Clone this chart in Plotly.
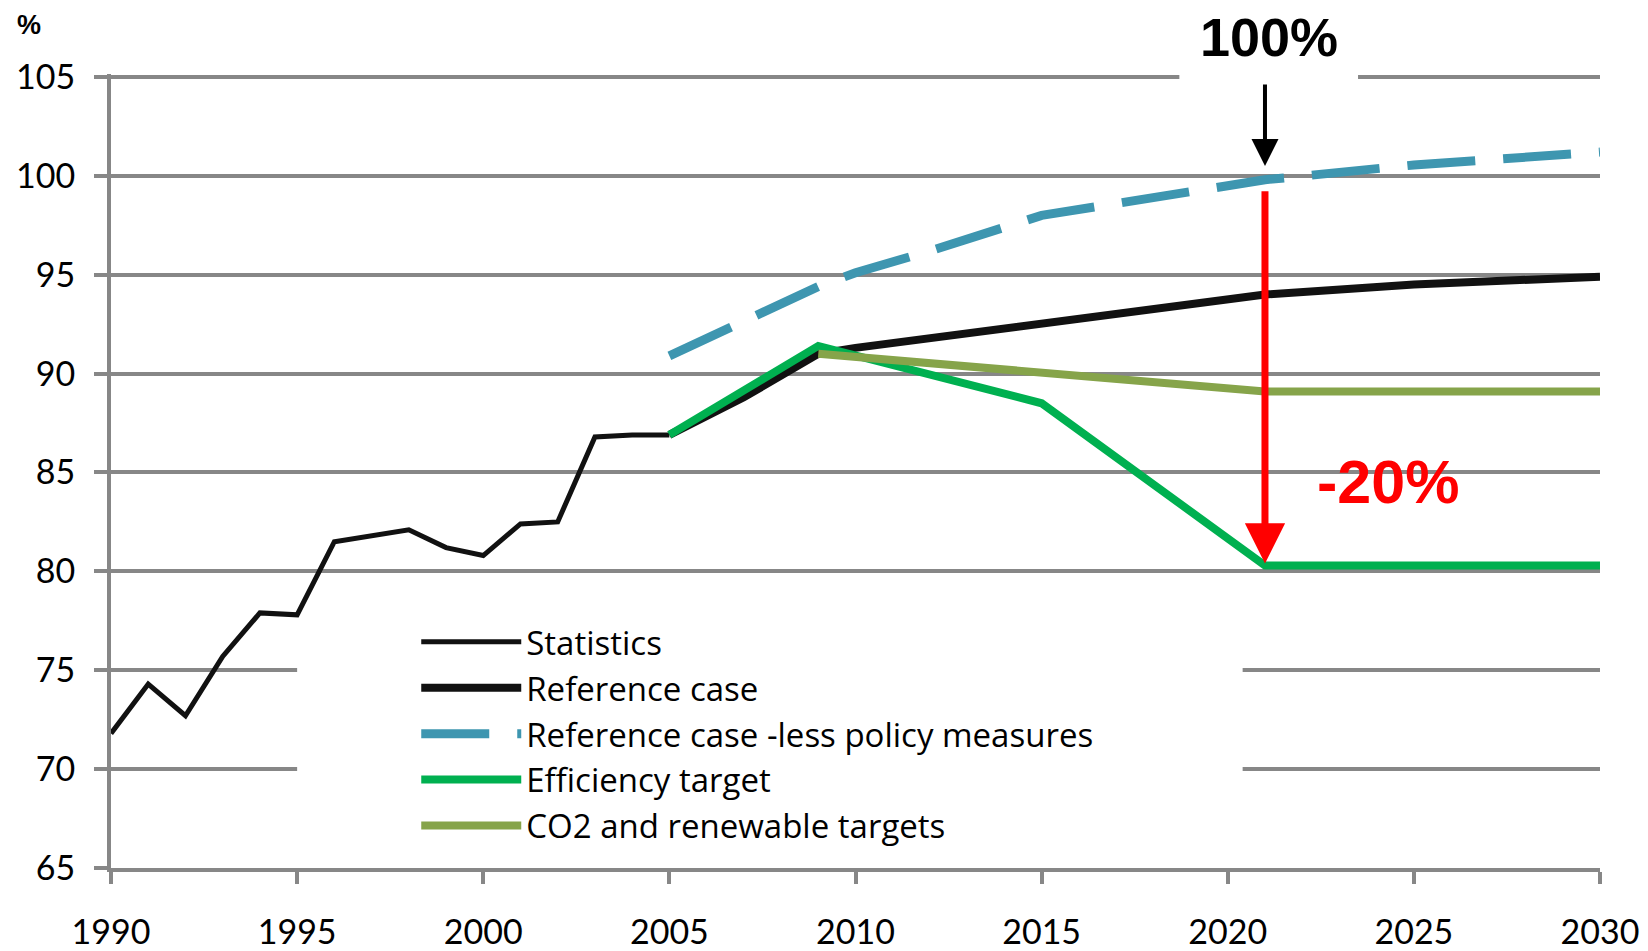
import plotly.graph_objects as go

# values
stat_years = [1990, 1991, 1992, 1993, 1994, 1995, 1996, 1997, 1998, 1999, 2000, 2001, 2002, 2003, 2004, 2005]
stat_values = [71.8, 74.3, 72.7, 75.7, 77.9, 77.8, 81.5, 81.8, 82.1, 81.2, 80.8, 82.4, 82.5, 86.8, 86.9, 86.9]

ref_years = [2005, 2006, 2007, 2008, 2009, 2010, 2015, 2020, 2021, 2025, 2030]
ref_values = [86.9, 87.8, 88.8, 89.9, 91.0, 91.3, 92.5, 93.8, 94.0, 94.5, 94.9]

less_years = [2005, 2007, 2009, 2010, 2012, 2015, 2018, 2021, 2025, 2030]
less_values = [90.9, 92.6, 94.4, 95.1, 96.2, 98.0, 98.9, 99.8, 100.55, 101.2]

eff_years = [2005, 2009, 2015, 2021, 2030]
eff_values = [86.9, 91.4, 88.5, 80.3, 80.3]

co2_years = [2009, 2015, 2021, 2030]
co2_values = [91.0, 90.1, 89.1, 89.1]

x_ticks = [1990, 1995, 2000, 2005, 2010, 2015, 2020, 2025, 2030]
y_ticks = [65, 70, 75, 80, 85, 90, 95, 100, 105]

grid = "#878787"
font_name = "Lato"

fig = go.Figure()
fig.add_trace(go.Scatter(x=stat_years, y=stat_values, mode="lines", name="Statistics",
                         line=dict(color="#111111", width=5)))
fig.add_trace(go.Scatter(x=ref_years, y=ref_values, mode="lines", name="Reference case",
                         line=dict(color="#111111", width=8)))
fig.add_trace(go.Scatter(x=less_years, y=less_values, mode="lines",
                         name="Reference case -less policy measures",
                         line=dict(color="#3E96B0", width=9, dash="68px,28px")))
fig.add_trace(go.Scatter(x=eff_years, y=eff_values, mode="lines", name="Efficiency target",
                         line=dict(color="#00B050", width=8)))
fig.add_trace(go.Scatter(x=co2_years, y=co2_values, mode="lines", name="CO2 and renewable targets",
                         line=dict(color="#86A44A", width=8)))

# white patches that break the gridlines behind the legend and the "100%" label
fig.add_shape(type="rect", xref="x", yref="y", x0=1995.0, x1=2020.4, y0=65.6, y1=77.6,
              fillcolor="white", line_width=0, layer="between")
fig.add_shape(type="rect", xref="x", yref="y", x0=2018.7, x1=2023.5, y0=104.5, y1=105.15,
              fillcolor="white", line_width=0, layer="between")

# arrows
fig.add_annotation(x=2021, y=100.5, ax=2021, ay=104.7, xref="x", yref="y", axref="x", ayref="y",
                   text="", showarrow=True, arrowhead=2, arrowsize=1.35, arrowwidth=4,
                   arrowcolor="black")
fig.add_annotation(x=2021, y=80.4, ax=2021, ay=99.3, xref="x", yref="y", axref="x", ayref="y",
                   text="", showarrow=True, arrowhead=2, arrowsize=1.15, arrowwidth=7,
                   arrowcolor="#FF0000")

fig.add_annotation(x=2021.1, y=1.046, xref="x", yref="paper", text="<b>100%</b>", showarrow=False,
                   xanchor="center", yanchor="middle",
                   font=dict(family="Liberation Sans", size=54, color="black"))
fig.add_annotation(x=2024.3, y=84.5, xref="x", yref="y", text="<b>-20%</b>", showarrow=False,
                   xanchor="center", yanchor="middle",
                   font=dict(family="Liberation Sans", size=61, color="#FF0000"))
fig.add_annotation(x=-0.055, y=1.0615, xref="paper", yref="paper", text="<b>%</b>", showarrow=False,
                   xanchor="center", yanchor="middle",
                   font=dict(family="Liberation Sans", size=27, color="black"))

# the page body adds an 8 px offset, so the figure is 8 px smaller and margins shifted
fig.update_layout(
    width=1640, height=943,
    margin=dict(l=103, r=48, t=66, b=83, autoexpand=False),
    plot_bgcolor="white", paper_bgcolor="white",
    font=dict(family=font_name, size=34, color="black"),
    showlegend=True,
    legend=dict(x=0.205, y=0.32, xanchor="left", yanchor="top", bgcolor="rgba(0,0,0,0)",
                font=dict(family="Open Sans", size=33, color="black"),
                itemwidth=100, tracegroupgap=0),
)
fig.update_xaxes(range=[1990, 2030], tickvals=x_ticks, showgrid=False, zeroline=False,
                 showline=True, linecolor=grid, linewidth=4, automargin=False,
                 ticks="outside", ticklen=12, tickwidth=4, tickcolor=grid,
                 ticklabelstandoff=19, tickfont=dict(size=34))
fig.update_yaxes(range=[65, 105.15], tickvals=y_ticks, showgrid=True, gridcolor=grid, gridwidth=4,
                 zeroline=False, showline=True, linecolor=grid, linewidth=4, automargin=False,
                 ticks="outside", ticklen=13, tickwidth=4, tickcolor=grid,
                 ticklabelstandoff=12, tickfont=dict(size=34))

fig.write_html("out.html")
